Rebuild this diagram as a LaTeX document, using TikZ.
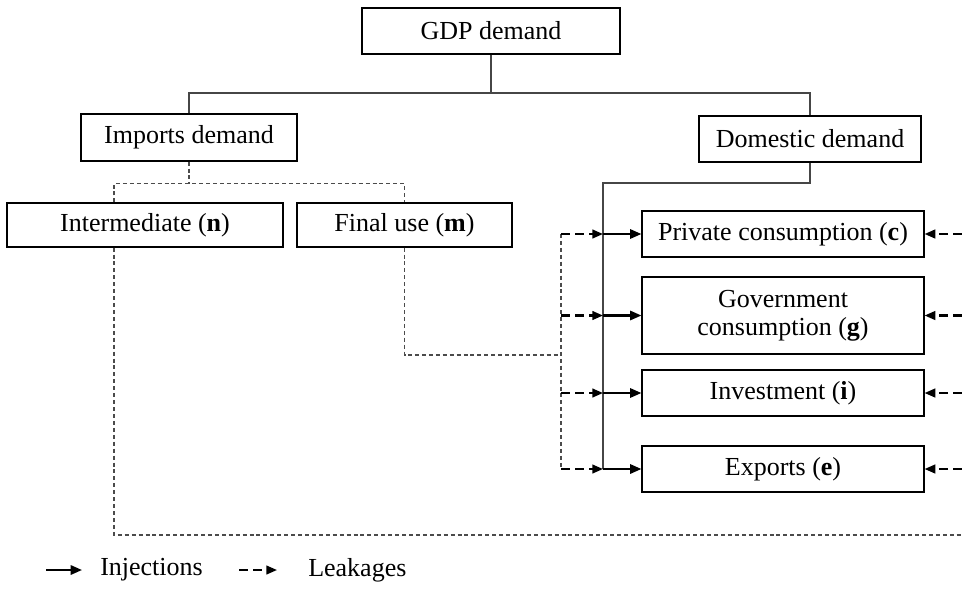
\documentclass[tikz,border=0pt]{standalone}
\usepackage{fontspec}
\setmainfont{Liberation Serif}
\usepackage{xcolor}
\usepackage{tikz}
\usetikzlibrary{calc}
\usetikzlibrary{arrows.meta}
\usetikzlibrary{positioning}
\definecolor{treegray}{RGB}{70,70,70}
\definecolor{dashgray}{RGB}{75,75,75}

\begin{document}
\begin{tikzpicture}[x=0.75pt,y=-0.75pt,
		box/.style={draw=black,line width=0.9pt,inner sep=0pt,align=center,font=\fontsize{19.5}{21}\selectfont},
		tree/.style={treegray,line width=0.9pt},
		impline/.style={dashgray,line width=0.85pt,dash pattern=on 3pt off 2.2pt},
		injarrow/.style={black,line width=1.6pt,-{Triangle[length=8.5pt,width=7pt]}},
		leakarrow/.style={black,line width=1.6pt,dash pattern=on 6.5pt off 4pt,-{Triangle[length=8pt,width=6.5pt]}},
		legend/.style={font=\fontsize{19.5}{21}\selectfont,anchor=west,inner sep=0pt}]
		\useasboundingbox (0,0) rectangle (962,589);
		\node[box,minimum width=193.5pt,minimum height=34.5pt] (gdp) at (491,31) {GDP demand};
		\node[box,minimum width=162pt,minimum height=35.25pt] (imp) at (189,137.5) {Imports demand};
		\node[box,minimum width=166.5pt,minimum height=34.5pt] (dom) at (810,139) {Domestic demand};
		\node[box,minimum width=207pt,minimum height=33pt] (inter) at (145,225) {Intermediate (\textbf{n})};
		\node[box,minimum width=161.25pt,minimum height=33pt] (fin) at (404.5,225) {Final use (\textbf{m})};
		\node[box,minimum width=211.5pt,minimum height=34.5pt] (priv) at (783,234) {Private consumption (\textbf{c})};
		\node[box,minimum width=211.5pt,minimum height=57.75pt] (gov) at (783,315.5) {Government\\consumption (\textbf{g})};
		\node[box,minimum width=211.5pt,minimum height=34.5pt] (inv) at (783,393) {Investment (\textbf{i})};
		\node[box,minimum width=211.5pt,minimum height=34.5pt] (exp) at (783,469) {Exports (\textbf{e})};
		\coordinate (top) at (491,93);
		\coordinate (nx) at (114,0);
		\coordinate (inj) at (603,183);
		\coordinate (leak) at (561,355);
		\coordinate (edge) at (962,0);
		\coordinate (edgebot) at (962,535);
		% demand tree
		\draw[tree] (gdp.south) -- (top);
		\draw[tree] (imp.north) |- (top) -| (dom.north);
		\draw[impline] (imp.south) -- ++(0,22) coordinate (split);
		\draw[impline] (inter.north -| nx) |- (split) -| (fin.north);
		\draw[impline] (inter.south -| nx) |- (edgebot);
		\draw[impline] (fin.south) |- (leak);
		\draw[impline] (leak |- priv.west) -- (leak |- exp.west);
		\draw[tree] (dom.south) |- (inj) -- (inj |- exp.west);
		% injections
		\draw[injarrow] (inj |- priv.west) -- (priv.west);
		\draw[injarrow] (inj |- gov.west) -- (gov.west);
		\draw[injarrow] (inj |- inv.west) -- (inv.west);
		\draw[injarrow] (inj |- exp.west) -- (exp.west);
		% leakages
		\draw[leakarrow] (leak |- priv.west) -- (inj |- priv.west);
		\draw[leakarrow] (leak |- gov.west) -- (inj |- gov.west);
		\draw[leakarrow] (leak |- inv.west) -- (inj |- inv.west);
		\draw[leakarrow] (leak |- exp.west) -- (inj |- exp.west);
		\draw[leakarrow] (edge |- priv.east) -- (priv.east);
		\draw[leakarrow] (edge |- gov.east) -- (gov.east);
		\draw[leakarrow] (edge |- inv.east) -- (inv.east);
		\draw[leakarrow] (edge |- exp.east) -- (exp.east);
		\node[legend] (injtxt) at (100,570) {Injections};
		\node[legend] (leaktxt) at (308,570) {Leakages};
		\draw[injarrow] ($(injtxt.west)+(-54,0)$) -- ($(injtxt.west)+(-18,0)$);
		\draw[leakarrow] ($(leaktxt.west)+(-69,0)$) -- ($(leaktxt.west)+(-31,0)$);
	\end{tikzpicture}
\end{document}
